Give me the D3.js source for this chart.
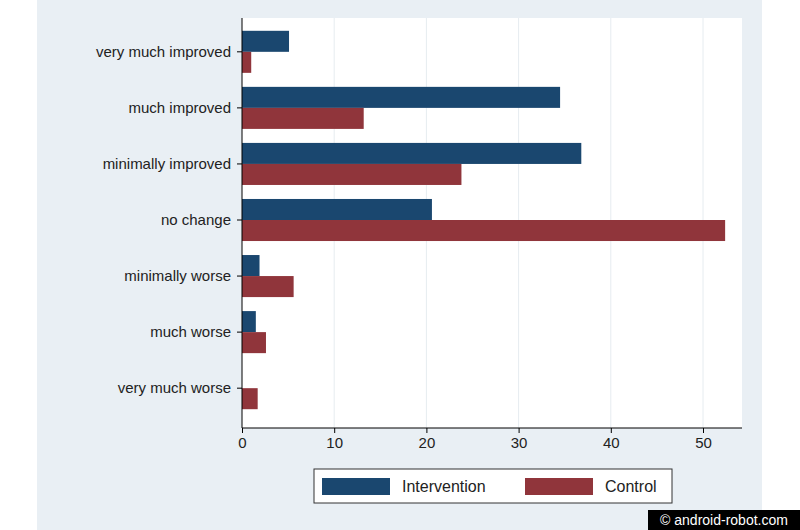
<!DOCTYPE html><html><head><meta charset="utf-8">
<script src="https://cdn.jsdelivr.net/npm/d3@7"></script>
<style>body{margin:0;background:#fff}svg{display:block}</style></head><body>
<script>
const categories=["very much improved","much improved","minimally improved","no change","minimally worse","much worse","very much worse"];
const intervention=[5.1,34.5,36.8,20.6,1.9,1.5,0];
const control=[1.0,13.2,23.8,52.4,5.6,2.6,1.7];
const xTicks=[0,10,20,30,40,50];
const W=800,H=530;
const svg=d3.select("body").append("svg").attr("width",W).attr("height",H).style("font-family","Liberation Sans, Arial, sans-serif");
svg.append("rect").attr("x",37).attr("y",0).attr("width",725).attr("height",530).attr("fill","#e9eff4");
const L=242,R=742,T=18,B=428;
svg.append("rect").attr("x",L).attr("y",T).attr("width",R-L).attr("height",B-T).attr("fill","#fff");
const x=d3.scaleLinear().domain([0,50]).range([L,703]);
const y=d3.scaleBand().domain(categories).range([T+10,B-16]).paddingInner(0.25).paddingOuter(0.05);
svg.append("g").selectAll("line").data(xTicks.slice(1)).join("line").attr("x1",d=>x(d)).attr("x2",d=>x(d)).attr("y1",T).attr("y2",B).attr("stroke","#e6ecf0");
const bw=y.bandwidth()/2;
svg.append("g").selectAll("rect").data(categories).join("rect").attr("x",L).attr("y",d=>y(d)).attr("height",bw).attr("width",(d,i)=>x(intervention[i])-L).attr("fill","#1a476f");
svg.append("g").selectAll("rect").data(categories).join("rect").attr("x",L).attr("y",d=>y(d)+bw).attr("height",bw).attr("width",(d,i)=>x(control[i])-L).attr("fill","#90353b");
const ya=svg.append("g").attr("transform",`translate(${L},0)`).call(d3.axisLeft(y).tickSize(5).tickPadding(6));
ya.select(".domain").attr("d",`M0,${T}V${B}`);
ya.selectAll("text").attr("font-size",15).attr("fill","#222");
const xa=svg.append("g").attr("transform",`translate(0,${B})`).call(d3.axisBottom(x).tickValues(xTicks).tickSize(5).tickPadding(4));
xa.select(".domain").attr("d",`M${L},0H${R}`);
xa.selectAll("text").attr("font-size",15).attr("fill","#222");
const lg=svg.append("g");
lg.append("rect").attr("x",314).attr("y",469).attr("width",358).attr("height",34).attr("fill","#fff").attr("stroke","#333");
[["Intervention","#1a476f",322],["Control","#90353b",525]].forEach(([t,c,lx])=>{
 lg.append("rect").attr("x",lx).attr("y",478).attr("width",68).attr("height",17).attr("fill",c);
 lg.append("text").attr("x",lx+80).attr("y",492).attr("font-size",16).attr("fill","#222").text(t);
});
svg.append("rect").attr("x",648).attr("y",510).attr("width",152).attr("height",20).attr("fill","#000");
svg.append("text").attr("x",724).attr("y",525).attr("text-anchor","middle").attr("font-size",14).attr("fill","#fff").text("© android-robot.com");
</script></body></html>
